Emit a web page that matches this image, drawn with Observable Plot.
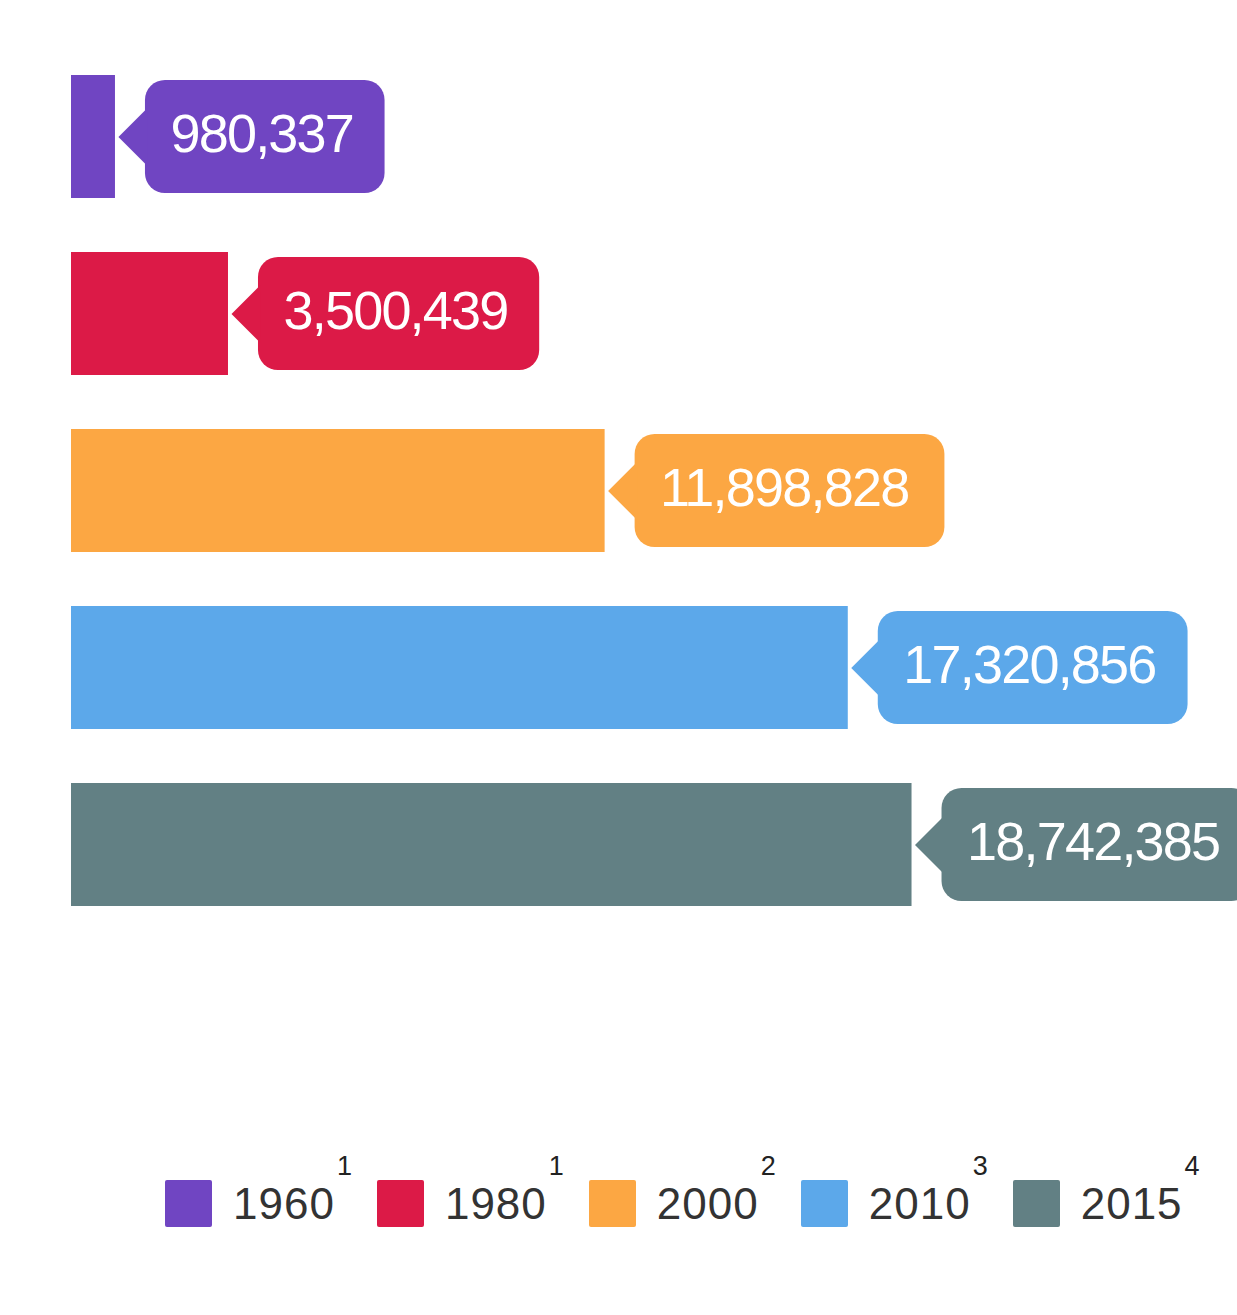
<!DOCTYPE html>
<html>
<head>
<meta charset="utf-8">
<script src="https://cdn.jsdelivr.net/npm/d3@7"></script>
<script src="https://cdn.jsdelivr.net/npm/@observablehq/plot@0.6"></script>
<style>
  html, body { margin: 0; padding: 0; background: #fff; overflow: hidden; }
  #chart svg { max-width: none !important; }
  #chart g[aria-label="text"] text { letter-spacing: -1.8px; }
  #legend { display: flex; align-items: flex-start; margin-top: 180px; padding-left: 165px;
            font-family: "Liberation Sans", Arial, sans-serif; color: #333; }
  .item { display: flex; align-items: flex-start; margin-right: 25px; }
  .sw { width: 47px; height: 47px; border-radius: 2px; margin-right: 21px; }
  .lab { font-size: 44px; letter-spacing: 1px; line-height: 47px; margin-top: 0px; }
  .sup { font-size: 27px; line-height: 27px; margin-top: -27px; margin-left: 2px; color: #222; }
</style>
</head>
<body>
<div id="chart"></div>
<div id="legend"></div>
<script>
const years = ["1960", "1980", "2000", "2010", "2015"];
const values = [980337, 3500439, 11898828, 17320856, 18742385];
const notes = ["1", "1", "2", "3", "4"];
const colors = ["#7045c2", "#dc1a47", "#fca743", "#5ca8ea", "#628084"];

const data = years.map((year, i) => ({year, value: values[i], label: d3.format(",")(values[i])}));

// callout box width derived from label text (digits and commas)
function boxWidth(label) {
  const digits = label.replace(/[^0-9]/g, "").length;
  const commas = label.length - digits;
  return digits * 28.6 + commas * 13 + 55;
}

const arrowSymbol = {
  draw(context) {
    context.moveTo(3, 0);
    context.lineTo(32, -29);
    context.lineTo(32, 29);
    context.closePath();
  }
};

const boxMarks = data.map(d => Plot.rect([d], {
  x1: "value", x2: "value", y: "year", fill: "year",
  insetLeft: 30, insetRight: -(30 + boxWidth(d.label)),
  insetTop: 5, insetBottom: 5, rx: 20
}));

const chart = Plot.plot({
  width: 1237,
  height: 1000,
  marginLeft: 71,
  marginRight: 0,
  marginTop: 21,
  marginBottom: 39,
  x: {domain: [0, 26000000], axis: null},
  y: {domain: years, axis: null, padding: 0.305},
  color: {domain: years, range: colors},
  style: {background: "white", overflow: "hidden"},
  marks: [
    Plot.barX(data, {x: "value", y: "year", fill: "year"}),
    ...boxMarks,
    Plot.dot(data, {x: "value", y: "year", fill: "year", symbol: arrowSymbol, stroke: null}),
    Plot.text(data, {x: "value", y: "year", text: "label", dx: 55, dy: -2, textAnchor: "start",
      fill: "white", fontSize: 54, fontFamily: "Liberation Sans, Arial, sans-serif"})
  ]
});
document.getElementById("chart").appendChild(chart);

const legend = document.getElementById("legend");
years.forEach((y, i) => {
  const item = document.createElement("div");
  item.className = "item";
  item.innerHTML = `<div class="sw" style="background:${colors[i]}"></div>` +
    `<div class="lab">${y}</div><div class="sup">${notes[i]}</div>`;
  legend.appendChild(item);
});
</script>
</body>
</html>
